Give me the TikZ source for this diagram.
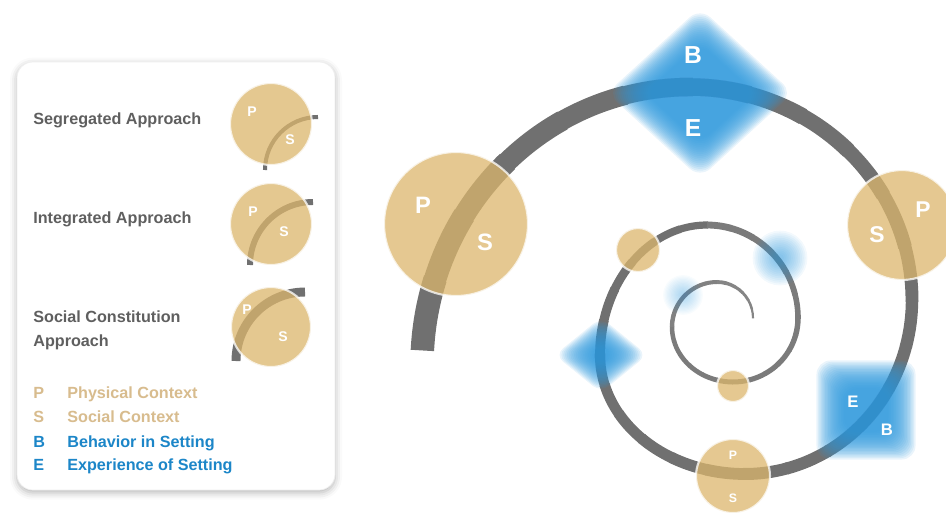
\documentclass[tikz,border=0pt]{standalone}
\usepackage{fontspec}
\setmainfont{Liberation Sans}
\usetikzlibrary{shapes.geometric,shadows.blur}

\definecolor{pstan}{RGB}{220,182,108}
\definecolor{keytan}{RGB}{216,188,142}
\definecolor{bandgray}{RGB}{112,112,112}
\definecolor{beblue}{RGB}{45,152,220}
\definecolor{keyblue}{RGB}{28,134,200}
\definecolor{labelgray}{RGB}{95,95,95}

\begin{document}
\begin{tikzpicture}[
    x=0.02cm, y=0.02cm,
    band/.style={draw=bandgray!#1!white, line cap=butt},
    context/.style={
        circle,
        fill=pstan,
        fill opacity=0.75,
        draw=white,
        draw opacity=0.75,
        line width=1.2pt,
        inner sep=0pt,
        minimum size=#1
    },
    blob/.style={
        fill=beblue,
        fill opacity=#1,
        draw=none,
        inner sep=0pt,
        outer sep=0pt
    },
    ltr/.style={
        text=white,
        inner sep=0pt,
        font=\bfseries\fontsize{#1}{#1}\selectfont
    },
    approach/.style={
        anchor=west,
        align=left,
        inner sep=0pt,
        text=labelgray,
        font=\bfseries\fontsize{9.2}{13.6}\selectfont
    },
    keyltr/.style={
        anchor=base west,
        inner sep=0pt,
        text=#1,
        font=\bfseries\fontsize{9.2}{11}\selectfont
    },
    legendbox/.style={
        rectangle,
        rounded corners=9pt,
        fill=white,
        draw=gray!12,
        blur shadow={shadow xshift=0pt, shadow yshift=-1.5pt,
                     shadow blur radius=4pt, shadow opacity=30}
    }
]
\useasboundingbox (0,0) rectangle (946,512);

% legend
\node[legendbox, minimum width=6.36cm, minimum height=8.56cm] (legend) at (176,236) {};

\node[approach, anchor=base west] (seglabel) at (33,388) {Segregated Approach};
\node[approach, anchor=base west] (intlabel) at (33,289) {Integrated Approach};
\node[approach] (soclabel) at (33,182) {Social Constitution\\Approach};

\draw[band=100, line width=2.3pt] (318,395) arc[start angle=90, end angle=180, radius=53];
\draw[band=100, line width=3.4pt] (313,310) arc[start angle=90, end angle=180, radius=63];
\draw[band=100, line width=5.1pt] (305,220) arc[start angle=90, end angle=180, radius=69];
\node[context=1.64cm] (segcirc) at (271,388) {};
\node[context=1.64cm] (intcirc) at (271,288) {};
\node[context=1.6cm] (soccirc) at (271,185) {};
\node[ltr=8] (segP) at (252,400) {P};
\node[ltr=8] (segS) at (290,372) {S};
\node[ltr=8] (intP) at (253,300) {P};
\node[ltr=8] (intS) at (284,280) {S};
\node[ltr=8] (socP) at (247,202) {P};
\node[ltr=8] (socS) at (283,175) {S};

\node[keyltr=keytan] (keyP) at (33,114) {P};
\node[keyltr=keytan] (keyS) at (33,90) {S};
\node[keyltr=keyblue] (keyB) at (33,65) {B};
\node[keyltr=keyblue] (keyE) at (33,42) {E};
\node[keyltr=keytan] (keyPtext) at (67,114) {Physical Context};
\node[keyltr=keytan] (keyStext) at (67,90) {Social Context};
\node[keyltr=keyblue] (keyBtext) at (67,65) {Behavior in Setting};
\node[keyltr=keyblue] (keyEtext) at (67,42) {Experience of Setting};

% spiral: quarter ellipses, cut in pieces so the band gets thinner
\foreach \cx/\cy/\sa/\ea/\rx/\ry/\wa/\wb/\s in {
    690/147/177/90/268/278/24/18/100,
    690/212/90/0/222/213/18/12.5/100,
    745/212/0/-90/167/174/12.5/12/100,
    745/157/-90/-180/145/119/12/10/100,
    707/157/-180/-270/107/130/10/7/100,
    707/194/-270/-360/91/93/7/5.5/92,
    733/194/-360/-450/65/64/5.5/5/92,
    733/185/-450/-540/61/55/5/4.5/92,
    717/185/-540/-630/45/45/4.5/4/88,
    717/194/-630/-720/36/36/4/2/85}{
  \foreach \k in {0,...,5}{
    \pgfmathsetmacro\a{\sa+(\ea-\sa)*\k/6}
    \pgfmathsetmacro\b{\sa+(\ea-\sa)*(\k+1)/6-0.6}
    \pgfmathsetmacro\w{(\wa+(\wb-\wa)*(\k+0.5)/6)*0.567}
    \draw[band=\s, line width=\w pt] ({\cx+\rx*cos(\a)},{\cy+\ry*sin(\a)})
        arc[start angle=\a, end angle=\b, x radius=\rx, y radius=\ry];
  }
}

% contexts on the spiral
\node[context=2.88cm] (psleft) at (456,288) {};
\node[context=2.2cm] (psright) at (902,287) {};
\node[context=1.48cm] (psbottom) at (733,36) {};
\node[context=0.88cm] (pssmall) at (638,262) {};
\node[context=0.64cm] (psinner) at (733,126) {};

\node[ltr=13.5] (psleftP) at (423,307) {P};
\node[ltr=13.5] (psleftS) at (485,270) {S};
\node[ltr=13] (psrightS) at (877,277) {S};
\node[ltr=13] (psrightP) at (923,302) {P};
\node[ltr=7] (psbottomP) at (733,57) {P};
\node[ltr=7] (psbottomS) at (733,14) {S};

% behaviour / experience, blurred
\foreach \g in {0,...,19}
  \node[blob=0.1, diamond, rounded corners=8pt, minimum width={(110+4*\g)*0.02cm},
        minimum height={(100+3.7*\g)*0.02cm}] (betop-\g) at (700,419) {};
\foreach \g in {0,...,19}
  \node[blob=0.1, rectangle, rounded corners=8pt, minimum size={(44+2.9*\g)*0.02cm}]
        (ebright-\g) at (866,102) {};
\foreach \g in {0,...,19}
  \node[blob=0.1, diamond, rounded corners=6pt, minimum width={(24+3.6*\g)*0.02cm},
        minimum height={(20+2.9*\g)*0.02cm}] (beleft-\g) at (601,157) {};
\foreach \g in {0,...,13}
  \node[blob=0.06, circle, minimum size={(8+3.6*\g)*0.02cm}] (beupper-\g) at (780,254) {};
\foreach \g in {0,...,13}
  \node[blob=0.03, circle, minimum size={(6+2.6*\g)*0.02cm}] (beinner-\g) at (683,217) {};

\node[ltr=14] (betopB) at (693,457) {B};
\node[ltr=14] (betopE) at (693,384) {E};
\node[ltr=9.5] (ebrightE) at (853,110) {E};
\node[ltr=9.5] (ebrightB) at (887,82) {B};

\end{tikzpicture}
\end{document}
